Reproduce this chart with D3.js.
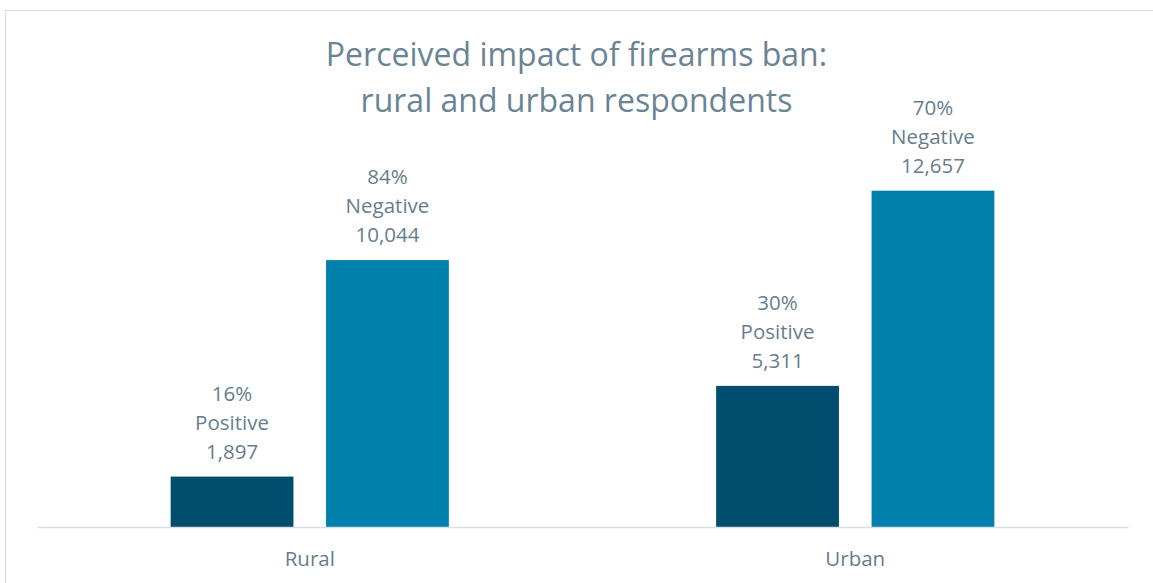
<!DOCTYPE html>
<html>
<head>
<meta charset="utf-8">
<script src="https://cdn.jsdelivr.net/npm/d3@7"></script>
<style>
  html, body { margin: 0; padding: 0; background: #ffffff; }
  svg { display: block; }
</style>
</head>
<body>
<svg id="chart" width="1153" height="583"></svg>
<script>
// Survey responses by area
const categories = ["Rural", "Urban"];
const seriesNames = ["Positive", "Negative"];
const positiveCounts = [1897, 5311];
const negativeCounts = [10044, 12657];
const positiveShares = ["16%", "30%"];
const negativeShares = ["84%", "70%"];
const titleLines = ["Perceived impact of firearms ban:", "rural and urban respondents"];

const colors = { Positive: "#004e6e", Negative: "#0080ac" };
const textColor = "#677d8d";
const font = "'Open Sans', sans-serif";

const W = 1153, H = 583;
const margin = { left: 37, right: 25, top: 155, bottom: 56 };
const svg = d3.select("#chart");

// chart frame
svg.append("rect")
  .attr("x", 5.5).attr("y", 10.5)
  .attr("width", W + 10).attr("height", H + 10)
  .attr("fill", "none").attr("stroke", "#d9d9d9").attr("stroke-width", 1);

const rows = categories.map((c, i) => ({
  category: c,
  values: [
    { series: "Positive", count: positiveCounts[i], share: positiveShares[i] },
    { series: "Negative", count: negativeCounts[i], share: negativeShares[i] }
  ]
}));

const x0 = d3.scaleBand()
  .domain(categories)
  .range([margin.left, W - margin.right]);

const x1 = d3.scaleBand()
  .domain(seriesNames)
  .range([0, x0.bandwidth() * 0.51])
  .paddingInner(0.21);

const y = d3.scaleLinear()
  .domain([0, 14000])
  .range([H - margin.bottom, margin.top]);

const groups = svg.append("g").selectAll("g")
  .data(rows)
  .join("g")
  .attr("transform", d => `translate(${x0(d.category) + (x0.bandwidth() - x1.range()[1]) / 2},0)`);

groups.selectAll("rect")
  .data(d => d.values)
  .join("rect")
  .attr("x", d => x1(d.series))
  .attr("y", d => y(d.count))
  .attr("width", x1.bandwidth())
  .attr("height", d => y(0) - y(d.count))
  .attr("fill", d => colors[d.series]);

// three-line data labels above each bar
const fmt = d3.format(",");
const labels = groups.selectAll("text.lbl")
  .data(d => d.values)
  .join("text")
  .attr("class", "lbl")
  .attr("text-anchor", "middle")
  .attr("font-family", font)
  .attr("font-size", 20.5)
  .attr("fill", textColor);

labels.each(function(d) {
  const t = d3.select(this);
  const cx = x1(d.series) + x1.bandwidth() / 2;
  const base = y(d.count) - 18;
  [d.share, d.series, fmt(d.count)].forEach((s, k) => {
    t.append("tspan")
      .attr("x", cx)
      .attr("y", base - (2 - k) * 29)
      .text(s);
  });
});

// baseline axis
const axis = svg.append("g")
  .attr("transform", `translate(0,${y(0)})`)
  .call(d3.axisBottom(x0).tickSize(0).tickPadding(0));
axis.select(".domain").attr("stroke", "#d9dee3").attr("stroke-width", 1.5);
axis.selectAll("text")
  .attr("font-family", font)
  .attr("font-size", 20.5)
  .attr("fill", textColor)
  .attr("dy", null)
  .attr("y", 39);

// title
svg.append("text")
  .attr("text-anchor", "middle")
  .attr("font-family", font)
  .attr("font-size", 32)
  .attr("fill", "#6b8494")
  .selectAll("tspan")
  .data(titleLines)
  .join("tspan")
  .attr("x", W / 2)
  .attr("y", (d, i) => 66 + i * 46)
  .text(d => d);
</script>
</body>
</html>
